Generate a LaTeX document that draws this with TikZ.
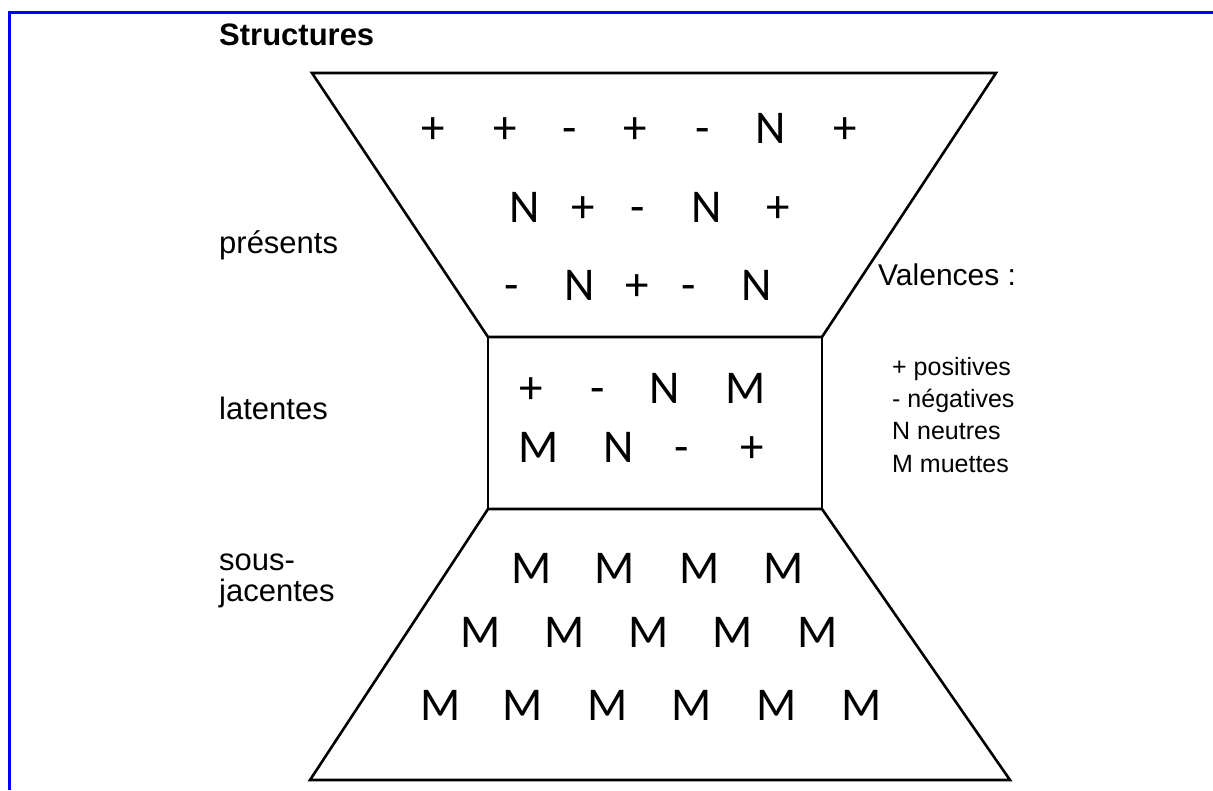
\documentclass[tikz,border=0pt]{standalone}
\usepackage{fontspec}
\setmainfont{Liberation Sans}
\newfontfamily\symfont{Carlito}
\tikzset{
  sym/.style={anchor=base, inner sep=0pt, font=\symfont\fontsize{47}{50}\selectfont},
  lbl/.style={anchor=base west, inner sep=0pt, font=\fontsize{31}{36}\selectfont},
  legend/.style={anchor=base west, inner sep=0pt, font=\fontsize{25}{30}\selectfont},
  outline/.style={draw=black, line width=2.6pt, line join=miter},
  frame/.style={draw=blue, line width=3pt}
}
\begin{document}
\begin{tikzpicture}[x=1pt,y=-1pt]
\useasboundingbox (0,0) rectangle (1213,790);
\fill[white] (0,0) rectangle (1213,790);
% blue frame
\coordinate (fbl) at (9,790);
\coordinate (ftl) at (9,12);
\coordinate (ftr) at (1213,12);
\draw[frame] (fbl) -- (ftl) -- (ftr);
% shape corners
\coordinate (a1) at (312,73);
\coordinate (a2) at (996,73);
\coordinate (r1) at (488,337);
\coordinate (r2) at (822,337);
\coordinate (r3) at (822,509);
\coordinate (r4) at (488,509);
\coordinate (b1) at (1010,780);
\coordinate (b2) at (310,780);
\draw[outline] (a1) -- (a2) -- (r2) -- (r1) -- cycle;
\draw[outline] (r1) rectangle (r3);
\draw[outline] (r4) -- (r3) -- (b1) -- (b2) -- cycle;
% labels
\node[lbl, font=\bfseries\fontsize{31}{36}\selectfont] (title) at (219,45) {Structures};
\node[lbl] (pres) at (219,253) {présents};
\node[lbl] (lat) at (219,419) {latentes};
\node[lbl] (sous) at (219,570) {sous-};
\node[lbl] (jac) at (219,601) {jacentes};
\node[lbl, font=\fontsize{30}{36}\selectfont] (val) at (878,285) {Valences :};
\node[legend] (lg1) at (892,375) {+ positives};
\node[legend] (lg2) at (892,407) {- négatives};
\node[legend] (lg3) at (892,439) {N neutres};
\node[legend] (lg4) at (892,472) {M muettes};
% top trapezoid symbols
\foreach \x/\s [count=\i] in {433/+,505/+,570/-,635/+,703/-,771/N,845/+}
  \node[sym] (ta\i) at (\x,143) {\s};
\foreach \x/\s [count=\i] in {525/N,583/+,638/-,707/N,778/+}
  \node[sym] (tb\i) at (\x,222) {\s};
\foreach \x/\s [count=\i] in {512/-,580/N,637/+,689/-,757/N}
  \node[sym] (tc\i) at (\x,300) {\s};
% rectangle symbols
\foreach \x/\s [count=\i] in {531/+,598/-,665/N,746/M}
  \node[sym] (ra\i) at (\x,403) {\s};
\foreach \x/\s [count=\i] in {539/M,619/N,682/-,752/+}
  \node[sym] (rb\i) at (\x,462) {\s};
% bottom trapezoid symbols
\foreach \x [count=\i] in {532,615,700,784}
  \node[sym] (ba\i) at (\x,583) {M};
\foreach \x [count=\i] in {481,565,649,733,818}
  \node[sym] (bb\i) at (\x,647) {M};
\foreach \x [count=\i] in {441,523,608,692,777,862}
  \node[sym] (bc\i) at (\x,720) {M};
\end{tikzpicture}
\end{document}
